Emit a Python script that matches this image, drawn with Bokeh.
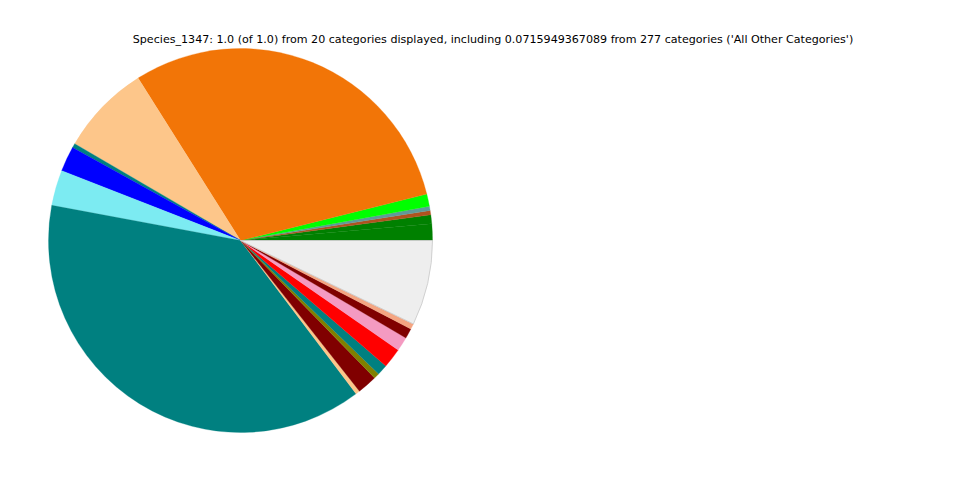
import numpy as np
from bokeh.plotting import figure
from bokeh.models import ColumnDataSource, Label
from bokeh.embed import file_html
from bokeh.resources import INLINE

categories = ["Cat_01", "Cat_02", "Cat_03", "Cat_04", "Cat_05", "Cat_06", "Cat_07",
              "Cat_08", "Cat_09", "Cat_10", "Cat_11", "Cat_12", "Cat_13", "Cat_14",
              "Cat_15", "Cat_16", "Cat_17", "Cat_18", "Cat_19", "All Other Categories"]
values = [0.0139, 0.0075, 0.0036, 0.0036, 0.0103, 0.3008, 0.0764, 0.0036, 0.0212, 0.0300,
          0.3822, 0.0036, 0.0167, 0.0047, 0.0089, 0.0167, 0.0119, 0.0085, 0.0047, 0.0715949367089]
colors = ["#008000", "#008000", "#b0521f", "#5f9a9a", "#00ff00", "#f27507", "#fdc68a",
          "#008080", "#0000ff", "#7cebf2", "#008080", "#fdc68a", "#800000", "#808000",
          "#008080", "#ff0000", "#f49ac1", "#800000", "#f4a582", "#eeeeee"]
title_text = ("Species_1347: 1.0 (of 1.0) from 20 categories displayed, including "
              "0.0715949367089 from 277 categories ('All Other Categories')")

W, H = 944, 464
vals = np.array(values, dtype=float)
frac = vals / vals.sum()
ends = np.cumsum(frac) * 2 * np.pi
starts = np.concatenate([[0.0], ends[:-1]])

src = ColumnDataSource(dict(cat=categories, start=starts, end=ends, color=colors))

p = figure(width=W, height=H, output_backend="svg", toolbar_location=None,
           x_range=(0, W), y_range=(0, H), min_border=0,
           x_axis_type=None, y_axis_type=None)
p.grid.visible = False
p.outline_line_color = None

cx, cy, r = 240, 224, 192
p.wedge(x=cx, y=cy, radius=r, start_angle="start", end_angle="end",
        direction="anticlock", fill_color="color", line_color="color",
        line_width=0.3, source=src)
# outline of the light "other" slice
p.wedge(x=cx, y=cy, radius=r, start_angle=starts[-1], end_angle=ends[-1],
        direction="anticlock", fill_color=None, line_color="#c8c8c8", line_width=0.8)

p.add_layout(Label(x=492.5, y=425, text=title_text, text_align="center",
                   text_baseline="middle", text_font="DejaVu Sans",
                   text_font_size="11.1px", text_color="#000000"))

open("out.html", "w").write(file_html(p, INLINE))
